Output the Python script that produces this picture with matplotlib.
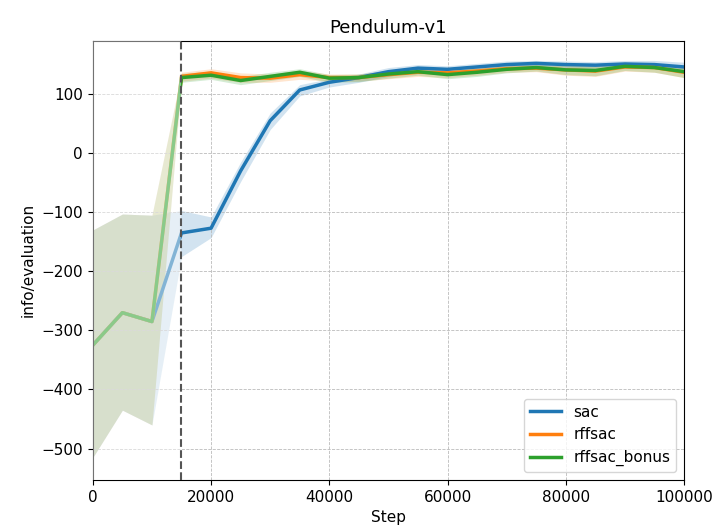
import matplotlib.pyplot as plt
import numpy as np

steps = np.arange(0, 100001, 5000)

sac_mean = [-325, -270, -285, -135, -127, -30, 55, 107, 120, 128, 138, 144, 142, 146, 150, 152, 150, 149, 151, 150, 146]
sac_low = [-515, -435, -460, -175, -143, -48, 40, 97, 112, 120, 130, 138, 136, 140, 145, 146, 144, 142, 145, 143, 138]
sac_high = [-130, -103, -105, -97, -108, -15, 68, 116, 126, 134, 145, 150, 148, 152, 156, 157, 156, 155, 157, 157, 154]

rff_mean = [-325, -270, -285, 130, 136, 128, 127, 133, 128, 128, 133, 137, 136, 139, 143, 144, 141, 139, 146, 145, 137]
rff_low = [-515, -435, -460, 122, 127, 120, 120, 125, 122, 122, 126, 130, 128, 132, 137, 138, 132, 130, 139, 137, 128]
rff_high = [-130, -103, -105, 137, 143, 136, 134, 140, 134, 134, 140, 144, 143, 146, 149, 150, 149, 148, 153, 152, 146]

bonus_mean = [-325, -270, -285, 128, 132, 123, 130, 137, 127, 128, 134, 138, 133, 137, 142, 145, 141, 140, 147, 145, 138]
bonus_low = [-515, -435, -460, 120, 125, 116, 123, 130, 120, 121, 127, 132, 126, 130, 136, 139, 133, 131, 140, 137, 128]
bonus_high = [-130, -103, -105, 135, 139, 130, 137, 143, 133, 134, 140, 144, 140, 144, 148, 151, 148, 148, 154, 152, 147]

names = ['sac', 'rffsac', 'rffsac_bonus']
means = [sac_mean, rff_mean, bonus_mean]
lows = [sac_low, rff_low, bonus_low]
highs = [sac_high, rff_high, bonus_high]
colors = ['#1f77b4', '#ff7f0e', '#2ca02c']

plt.rcParams['font.size'] = 11

fig = plt.figure(figsize=(7.14, 5.25), dpi=100)
ax = fig.add_axes([0.130, 0.086, 0.828, 0.836])

for name, m, lo, hi, c in zip(names, means, lows, highs, colors):
    ax.fill_between(steps, lo, hi, color=c, alpha=0.2, linewidth=0)
    ax.plot(steps, m, color=c, linewidth=2.5, label=name)

# fade the warm-up part
ax.axvspan(0, 15000, color='white', alpha=0.45, zorder=3, linewidth=0)
ax.axvline(15000, color='#555555', linestyle='--', linewidth=1.5, zorder=4)

ax.set_xlim(0, 100000)
ax.set_ylim(-553, 190)
ax.set_title('Pendulum-v1', fontsize=13)
ax.set_xlabel('Step')
ax.set_ylabel('info/evaluation')
ax.grid(True, linestyle='--', linewidth=0.6, color='#bbbbbb')
ax.legend(loc='lower right')

fig.savefig('out.png', dpi=100)
